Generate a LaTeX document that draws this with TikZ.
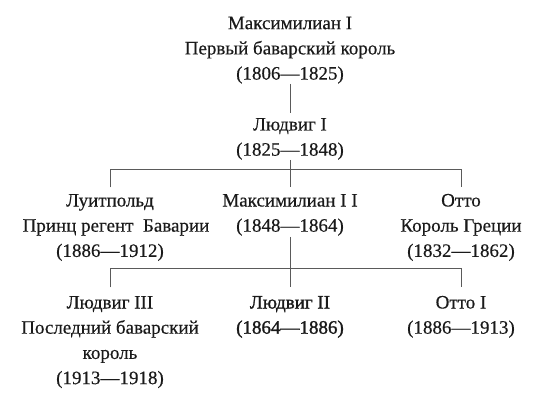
\documentclass[tikz,border=0pt]{standalone}
\usepackage{fontspec}
\setmainfont[FakeBold=0.35]{Liberation Serif}
\newfontfamily\semibold[FakeBold=1.4]{Liberation Serif}
\definecolor{txt}{HTML}{1A1A1A}
\definecolor{ln}{HTML}{5A5A5A}
\begin{document}
\begin{tikzpicture}[x=1pt,y=-1pt,
  person/.style={anchor=north,inner sep=0pt,align=center,text=txt,
    font=\fontsize{19}{25.2}\selectfont},
  link/.style={draw=ln,line width=0.9pt}]
\useasboundingbox[fill=white] (0,0) rectangle (549,409);
\newcommand{\fl}{\rule{0pt}{13pt}}
\node[person] (maxi) at (290,16) {\fl Максимилиан I\\Первый баварский король\\(1806—1825)};
\node[person] (lud1) at (290,117.3) {\fl Людвиг I\\(1825—1848)};
\node[person] (luit) at (110,193.3) {\fl Луитпольд\\\hspace*{12pt}Принц регент\ \ Баварии\\(1886—1912)};
\node[person] (max2) at (290,193.3) {\fl Максимилиан I I\\(1848—1864)};
\node[person] (otto) at (461,193.3) {\fl Отто\\Король Греции\\(1832—1862)};
\node[person] (lud3) at (110,295.3) {\fl Людвиг III\\Последний баварский\\король\\(1913—1918)};
\node[person,font=\fontsize{19}{25.2}\semibold] (lud2) at (290,295.3) {\fl Людвиг II\\(1864—1886)};
\node[person] (otto1) at (461,295.3) {\fl Отто I\\(1886—1913)};
% connectors
\draw[link] (maxi.south) -- ([yshift=4pt]lud1.north);
\coordinate (j1) at (290,175);
\draw[link] (lud1.south) -- (j1);
\draw[link] ([yshift=6pt]luit.north) -- ([yshift=6pt]luit.north |- j1) -- ([yshift=6pt]otto.north |- j1) -- ([yshift=6pt]otto.north);
\draw[link] (j1) -- ([yshift=6pt]max2.north);
\coordinate (j2) at (290,276.5);
\draw[link] ([yshift=-1pt]max2.south) -- (j2);
\draw[link] ([yshift=8pt]lud3.north) -- ([yshift=8pt]lud3.north |- j2) -- ([yshift=8pt]otto1.north |- j2) -- ([yshift=8pt]otto1.north);
\draw[link] (j2) -- ([yshift=8pt]lud2.north);
\end{tikzpicture}
\end{document}
